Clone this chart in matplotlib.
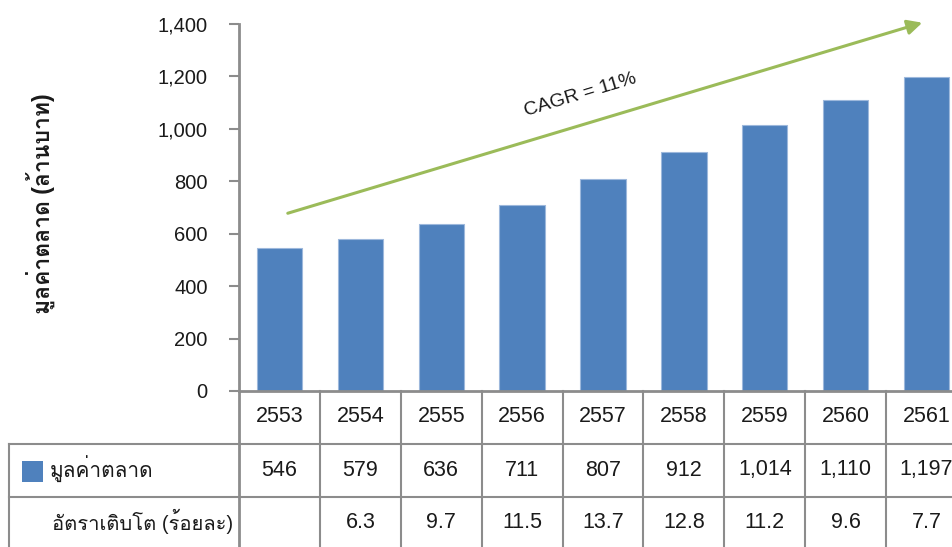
import matplotlib
matplotlib.use("Agg")
import matplotlib.pyplot as plt
import matplotlib.transforms as mtransforms
from matplotlib import font_manager
from matplotlib.patches import Rectangle

# ---- data ----
years = ["2553", "2554", "2555", "2556", "2557", "2558", "2559", "2560", "2561"]
market_value = [546, 579, 636, 711, 807, 912, 1014, 1110, 1197]
growth = ["", "6.3", "9.7", "11.5", "13.7", "12.8", "11.2", "9.6", "7.7"]
y_ticks = [0, 200, 400, 600, 800, 1000, 1200, 1400]
series_label = "มูลค่าตลาด"
growth_label = "อัตราเติบโต (ร้อยละ)"
y_label = "มูลค่าตลาด (ล้านบาท)"
cagr_label = "CAGR = 11%"

# ---- find a font with Thai glyphs ----
thai_font = None
try:
    from fontTools.ttLib import TTFont
    for fe in font_manager.fontManager.ttflist:
        try:
            f = TTFont(fe.fname, fontNumber=0, lazy=True)
            cmap = f.getBestCmap()
            if cmap and 0x0E21 in cmap and 0x0E39 in cmap:
                thai_font = fe.name
                break
        except Exception:
            pass
except Exception:
    pass

fams = ["Liberation Sans"]
if thai_font:
    fams.append(thai_font)
fams.append("DejaVu Sans")
plt.rcParams["font.family"] = fams

W, H = 953, 547
fig = plt.figure(figsize=(W / 100, H / 100), dpi=100)
ax_left, ax_right, ax_bot, ax_top = 239, 967, 391, 24
ax = fig.add_axes([ax_left / W, (H - ax_bot) / H, (ax_right - ax_left) / W, (ax_bot - ax_top) / H])

grey = "#8c8c8c"
txt = "#1a1a1a"
x = list(range(len(years)))
ax.bar(x, market_value, width=0.56, color="#4F81BD", edgecolor="#9db8dc", linewidth=0.8, zorder=2)
ax.set_xlim(-0.5, len(years) - 0.5)
ax.set_ylim(0, 1400)
ax.set_yticks(y_ticks)
ax.set_yticklabels([f"{v:,}" for v in y_ticks], fontsize=14.5, color=txt)
ax.tick_params(axis="y", length=7, width=1.5, color=grey, pad=15.5)
ax.set_xticks([])
for s in ["top", "right"]:
    ax.spines[s].set_visible(False)
ax.spines["left"].set_color(grey)
ax.spines["left"].set_linewidth(2)
ax.spines["bottom"].set_color(grey)
ax.spines["bottom"].set_linewidth(2)

ax.set_ylabel(y_label, fontsize=16.5, fontweight="bold", color=txt)
ax.yaxis.set_label_coords(-(ax_left - 55) / (ax_right - ax_left), 0.51)

# CAGR arrow
ax.annotate("", xy=(7.98, 1408), xytext=(0.07, 675), annotation_clip=False,
            arrowprops=dict(arrowstyle="-|>", color="#9BBB59", lw=2.2, mutation_scale=22))
ax.text(3.72, 1129, cagr_label, rotation=16.7, rotation_mode="anchor", ha="center", va="center",
        fontsize=14, color=txt)

# ---- table ----
tr = mtransforms.blended_transform_factory(ax.transData, fig.transFigure)
def fy(py):
    return (H - py) / H

row_lines = [444, 497]
left_px = 9
for ry in row_lines:
    fig.add_artist(plt.Line2D([left_px / W, 1.0], [fy(ry), fy(ry)], transform=fig.transFigure,
                              color=grey, lw=1.5))
fig.add_artist(plt.Line2D([left_px / W, left_px / W], [fy(444), 0], transform=fig.transFigure,
                          color=grey, lw=1.5))
for i in range(len(years) + 1):
    xb = i - 0.5
    fig.add_artist(plt.Line2D([xb, xb], [fy(ax_bot), 0], transform=tr, color=grey,
                              lw=2 if i == 0 else 1.5))
for i in x:
    fig.text(i, fy(417), years[i], transform=tr, ha="center", va="center", fontsize=15.5, color=txt)
    fig.text(i, fy(470), f"{market_value[i]:,}", transform=tr, ha="center", va="center", fontsize=15.5, color=txt)
    fig.text(i, fy(523), growth[i], transform=tr, ha="center", va="center", fontsize=15.5, color=txt)

fig.add_artist(Rectangle((22 / W, fy(482)), 21 / W, 21 / H, transform=fig.transFigure,
                         facecolor="#4F81BD", edgecolor="none"))
fig.text(50 / W, fy(469), series_label, ha="left", va="center", fontsize=15, color=txt)
fig.text(52 / W, fy(521), growth_label, ha="left", va="center", fontsize=14.5, color=txt)

fig.savefig("out.png", dpi=100)
